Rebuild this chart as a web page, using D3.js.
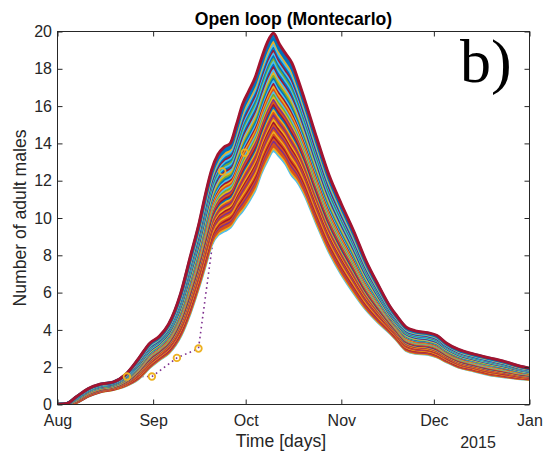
<!DOCTYPE html>
<html>
<head>
<meta charset="utf-8">
<script src="https://cdn.jsdelivr.net/npm/d3@7"></script>
<style>
  body { margin: 0; background: #fff; }
  svg { display: block; font-family: "Liberation Sans", Arial, Helvetica, sans-serif; }
</style>
</head>
<body>
<script>
// days counted from 1 Aug 2014
const days = [0, 3, 6, 10, 14, 18, 22, 26, 30, 33, 36, 40, 43, 46, 48, 50, 52, 54, 56, 58,
  60, 62, 64, 66, 68, 70, 72, 74, 76, 78, 80, 84, 88, 92, 96, 100, 104, 108, 110, 113,
  116, 120, 123, 126, 130, 135, 140, 145, 150, 153];

// highest and lowest Montecarlo run
const upperRun = [0, 0.05, 0.4, 0.85, 1.1, 1.2, 1.6, 2.4, 3.3, 3.65, 4.3, 6.0, 7.9, 9.8, 11.3, 12.6,
  13.4, 13.8, 14.0, 15.0, 16.1, 16.8, 17.5, 18.5, 19.4, 19.9, 19.3, 18.8, 18.3, 17.4,
  16.4, 14.3, 12.3, 10.75, 9.3, 7.7, 6.4, 5.2, 4.75, 4.15, 3.95, 3.85, 3.7, 3.3, 2.95,
  2.7, 2.5, 2.3, 2.05, 1.95];
const lowerRun = [0, 0, 0.1, 0.45, 0.68, 0.8, 1.0, 1.35, 2.0, 2.4, 2.75, 3.7, 4.9, 6.4, 7.5, 8.6,
  9.1, 9.3, 9.5, 10.0, 10.4, 10.9, 11.5, 12.4, 13.1, 13.6, 13.3, 12.9, 12.3, 11.9,
  11.3, 9.7, 8.2, 7.0, 6.0, 5.1, 4.4, 3.8, 3.45, 2.9, 2.75, 2.7, 2.55, 2.3, 2.0,
  1.8, 1.6, 1.48, 1.38, 1.34];

// position of each run inside the band (0 = lowest, 1 = highest) and its colour index
const runLevel = [0.000, 0.020, 0.040, 0.060, 0.080, 0.100, 0.120, 0.140, 0.160, 0.180,
  0.200, 0.220, 0.241, 0.262, 0.283, 0.304, 0.325, 0.346, 0.368, 0.390,
  0.412, 0.434, 0.456, 0.478, 0.500, 0.523, 0.546, 0.569, 0.592, 0.615,
  0.640, 0.663, 0.686, 0.711, 0.734, 0.757, 0.782, 0.805, 0.828, 0.853,
  0.876, 0.899, 0.924, 0.949, 0.975, 1.000];
const runColor = [5, 2, 1, 1, 3, 1, 6, 1, 2, 1,
  3, 1, 6, 2, 1, 3, 1, 2, 0, 6,
  1, 3, 2, 4, 5, 1, 2, 6, 5, 0,
  4, 2, 5, 6, 0, 5, 4, 0, 5, 6,
  0, 5, 2, 0, 0, 6];

const palette = ["#0072BD", "#D95319", "#EDB120", "#7E2F8E", "#77AC30", "#4DBEEE", "#A2142F"];

// observed adult males
const obsDay = [22.5, 30.6, 38.7, 45.7, 53.4, 60.7];
const obsValue = [1.5, 1.5, 2.5, 3.0, 12.5, 13.5];

const width = 545, height = 451;
const margin = { top: 31.5, right: 15.5, bottom: 46.5, left: 57.5 };
const textColor = "#262626";

const start = new Date(2014, 7, 1);
const toDate = d => new Date(+start + d * 864e5);

const svg = d3.select("body").append("svg")
  .attr("width", width)
  .attr("height", height);

const x = d3.scaleTime()
  .domain([start, new Date(2015, 0, 1)])
  .range([margin.left, width - margin.right]);

const y = d3.scaleLinear()
  .domain([0, 20])
  .range([height - margin.bottom, margin.top]);

svg.append("clipPath").attr("id", "plot")
  .append("rect")
  .attr("x", margin.left).attr("y", margin.top)
  .attr("width", width - margin.left - margin.right)
  .attr("height", height - margin.top - margin.bottom);

const line = d3.line()
  .x(d => x(toDate(d[0])))
  .y(d => y(d[1]))
  .curve(d3.curveMonotoneX);

// observation dotted line goes under the runs
svg.append("path")
  .datum(obsDay.map((d, i) => [d, obsValue[i]]))
  .attr("d", d3.line().x(d => x(toDate(d[0]))).y(d => y(d[1])))
  .attr("fill", "none")
  .attr("stroke", "#7E2F8E")
  .attr("stroke-width", 1.6)
  .attr("stroke-dasharray", "1.6,3.4");

const runs = runLevel.map(w => days.map((d, i) => [d, lowerRun[i] + w * (upperRun[i] - lowerRun[i])]));

svg.append("g")
  .attr("clip-path", "url(#plot)")
  .selectAll("path")
  .data(runs)
  .join("path")
  .attr("d", line)
  .attr("fill", "none")
  .attr("stroke", (d, i) => palette[runColor[i]])
  .attr("stroke-width", 3)
  .attr("stroke-linejoin", "round");

svg.append("g")
  .selectAll("circle")
  .data(obsDay)
  .join("circle")
  .attr("cx", d => x(toDate(d)))
  .attr("cy", (d, i) => y(obsValue[i]))
  .attr("r", 3.3)
  .attr("fill", "none")
  .attr("stroke", "#EDB120")
  .attr("stroke-width", 1.8);

// axes, ticks pointing inward
const months = d3.timeMonth.range(start, d3.timeDay.offset(new Date(2015, 0, 1), 1));

function style(g) {
  g.select(".domain").remove();
  g.selectAll("line").attr("stroke", textColor);
  g.selectAll("text").attr("fill", textColor).attr("font-size", 16);
}

svg.append("g")
  .attr("transform", `translate(0,${height - margin.bottom})`)
  .call(d3.axisBottom(x).tickValues(months).tickFormat(d3.timeFormat("%b"))
    .tickSizeInner(-5).tickSizeOuter(0).tickPadding(10.5))
  .call(style);

svg.append("g")
  .attr("transform", `translate(0,${margin.top})`)
  .call(d3.axisTop(x).tickValues(months).tickFormat("").tickSizeInner(-5).tickSizeOuter(0))
  .call(style);

svg.append("g")
  .attr("transform", `translate(${margin.left},0)`)
  .call(d3.axisLeft(y).ticks(10).tickSizeInner(-5).tickSizeOuter(0).tickPadding(5.5))
  .call(style);

svg.append("g")
  .attr("transform", `translate(${width - margin.right},0)`)
  .call(d3.axisRight(y).ticks(10).tickFormat("").tickSizeInner(-5).tickSizeOuter(0))
  .call(style);

svg.append("rect")
  .attr("x", margin.left).attr("y", margin.top)
  .attr("width", width - margin.left - margin.right)
  .attr("height", height - margin.top - margin.bottom)
  .attr("fill", "none")
  .attr("stroke", textColor)
  .attr("stroke-width", 1);

svg.append("text")
  .attr("x", (margin.left + width - margin.right) / 2)
  .attr("y", 25)
  .attr("text-anchor", "middle")
  .attr("font-weight", "bold")
  .attr("font-size", 17.6)
  .attr("fill", "#000")
  .text("Open loop (Montecarlo)");

svg.append("text")
  .attr("x", 281)
  .attr("y", 447)
  .attr("text-anchor", "middle")
  .attr("font-size", 17.6)
  .attr("fill", textColor)
  .text("Time [days]");

svg.append("text")
  .attr("x", 478)
  .attr("y", 448)
  .attr("text-anchor", "middle")
  .attr("font-size", 16)
  .attr("fill", textColor)
  .text("2015");

svg.append("text")
  .attr("transform", `translate(25.6,${(margin.top + height - margin.bottom) / 2}) rotate(-90)`)
  .attr("text-anchor", "middle")
  .attr("font-size", 17.6)
  .attr("fill", textColor)
  .text("Number of adult males");

svg.append("text")
  .attr("x", 460)
  .attr("y", 82)
  .attr("font-family", "'Liberation Serif', 'Times New Roman', serif")
  .attr("font-size", 62)
  .attr("fill", "#000")
  .text("b)");
</script>
</body>
</html>
